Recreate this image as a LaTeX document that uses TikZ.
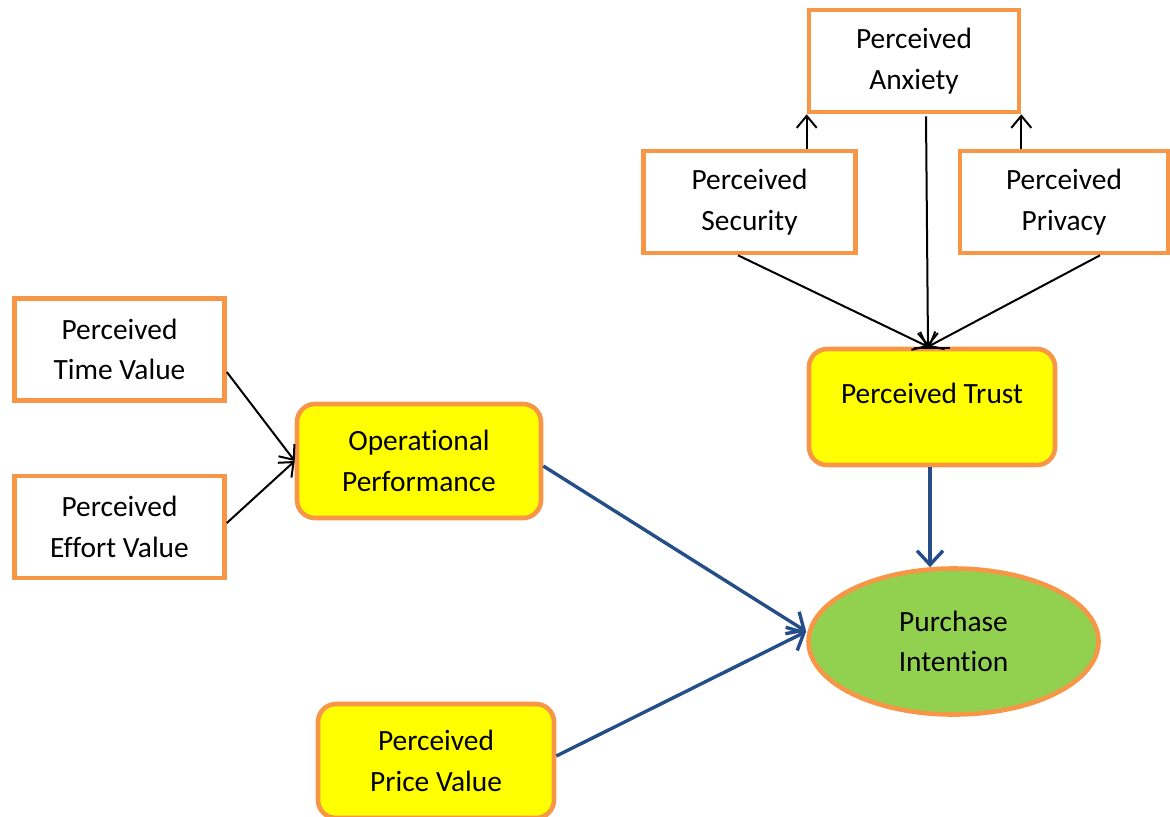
\documentclass[tikz,border=0pt]{standalone}
\usepackage{fontspec}
\setmainfont[Ligatures={NoCommon,NoRare,NoContextual}]{Carlito}
\usetikzlibrary{arrows.meta,calc,shapes.geometric}
\definecolor{borange}{HTML}{F79646}
\definecolor{byellow}{HTML}{FFFF00}
\definecolor{bgreen}{HTML}{92D050}
\definecolor{bblue}{RGB}{37,78,136}
\tikzset{
  plainbox/.style={draw=borange, line width=2.3pt, fill=white, rectangle, align=center,
    inner sep=0pt, font=\fontsize{14.7}{20.3}\selectfont},
  yelbox/.style={plainbox, fill=byellow, rounded corners=9pt},
  ovalnode/.style={draw=borange, line width=2.3pt, fill=bgreen, ellipse, align=center,
    inner sep=0pt, font=\fontsize{14.7}{20.3}\selectfont},
  lbl/.style={align=center, inner sep=0pt, font=\fontsize{14.7}{20.3}\selectfont},
  blk/.style={draw=black, line width=1pt, -{Straight Barb[length=6pt,width=10pt,line width=1pt]}},
  blu/.style={draw=bblue, line width=1.7pt, -{Straight Barb[length=7pt,width=13pt,line width=1.7pt]}},
}
\begin{document}
\begin{tikzpicture}[x=0.5pt,y=-0.5pt]
\useasboundingbox (0,0) rectangle (1170,816);
% top cluster
\node[plainbox, minimum width=105pt, minimum height=51pt] (anx) at (914,61) {Perceived\\Anxiety};
\node[plainbox, minimum width=106pt, minimum height=51pt] (sec) at (749.5,202) {Perceived\\Security};
\node[plainbox, minimum width=104pt, minimum height=51pt] (priv) at (1064,202) {Perceived\\Privacy};
\node[yelbox, minimum width=123pt, minimum height=58pt] (trust) at (932,407) {};
\node[lbl] (trusttext) at (932,393) {Perceived Trust};
% left cluster
\node[plainbox, minimum width=105pt, minimum height=51pt] (time) at (119.5,349.5) {Perceived\\Time Value};
\node[plainbox, minimum width=105pt, minimum height=51pt] (eff) at (119.5,527) {Perceived\\Effort Value};
\node[yelbox, minimum width=122pt, minimum height=57pt] (op) at (419,461) {Operational\\Performance};
\node[yelbox, minimum width=118pt, minimum height=57pt] (price) at (436,761) {Perceived\\Price Value};
\node[ovalnode, minimum width=145pt, minimum height=73pt] (pur) at (953.5,641.5) {Purchase\\Intention};
% black connectors
\draw[blk] (sec.north -| anx.south west) -- (anx.south west);
\draw[blk] (priv.north -| anx.south east) -- (anx.south east);
\draw[blk] ($(anx.south)+(12,2)$) -- ($(trust.north)+(-4,0)$);
\draw[blk] ($(sec.south)+(-11.5,0)$) -- ($(trust.north)+(-4,0)$);
\draw[blk] ($(priv.south)+(36,0)$) -- ($(trust.north)+(-4,0)$);
\draw[black, line width=1pt] ($(trust.north)+(-18,1)$) -- ($(trust.north)+(18,1)$);
\draw[blk] ($(time.east)+(0,22.5)$) -- (op.west);
\draw[blk] ($(eff.east)+(0,-4)$) -- (op.west);
% blue connectors
\draw[blu] ($(op.east)+(0,5)$) -- ($(pur.west)+(0,-10)$);
\draw[blu] ($(price.east)+(0,-5)$) -- ($(pur.west)+(0,-10)$);
\draw[blu] ($(trust.south)+(-2,0)$) -- ($(trust.south |- pur.north)+(-2,1)$);
\end{tikzpicture}
\end{document}
